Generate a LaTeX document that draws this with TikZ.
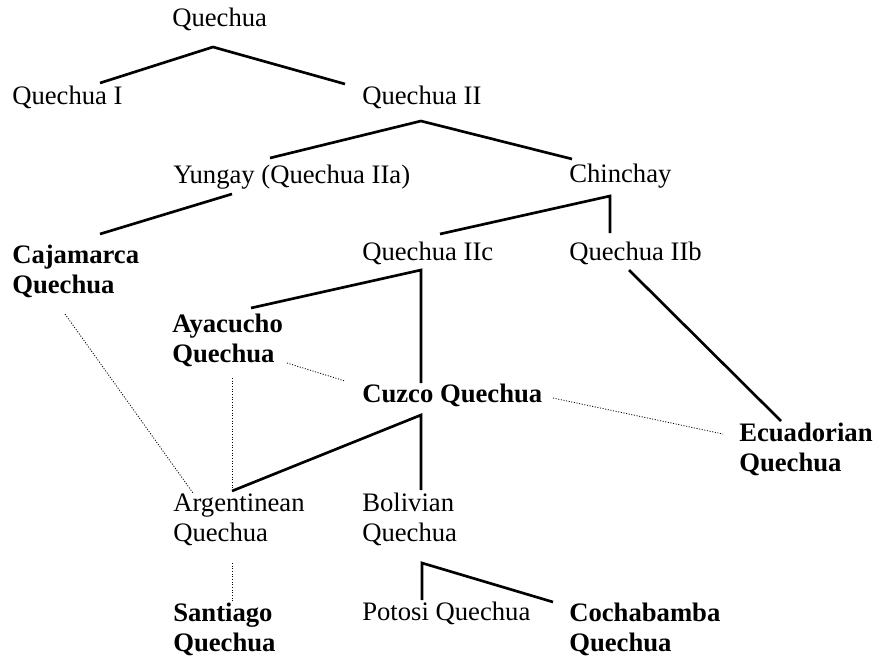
\documentclass[tikz,border=0pt]{standalone}
\usepackage{fontspec}
\setmainfont{Liberation Serif}

\begin{document}
\begin{tikzpicture}[x=0.75pt, y=-0.75pt,
    every node/.style={anchor=base west, inner sep=0pt, align=left,
      font=\fontsize{20}{22.5}\selectfont},
    lang/.style={font=\fontsize{20}{22.5}\selectfont\bfseries},
    branch/.style={line width=2pt},
    contact/.style={line width=0.6pt, dash pattern=on 0.8pt off 1.2pt}]
  \useasboundingbox (0,0) rectangle (874,657);

  % Labels (two-line labels sit on their last baseline)
  \node (Q) at (172,26) {Quechua};
  \node (QI) at (12,104) {Quechua I};
  \node (QII) at (362,104) {Quechua II};
  \node (Yun) at (173,183) {Yungay (Quechua IIa)};
  \node (Chin) at (569,182) {Chinchay};
  \node[lang] (Caj) at (12,293) {Cajamarca\\Quechua};
  \node (QIIc) at (362,260) {Quechua IIc};
  \node (QIIb) at (569,260) {Quechua IIb};
  \node[lang] (Aya) at (172,362) {Ayacucho\\Quechua};
  \node[lang] (Cuz) at (362,402) {Cuzco Quechua};
  \node[lang] (Ecu) at (739,471) {Ecuadorian\\Quechua};
  \node (Arg) at (173,541) {Argentinean\\Quechua};
  \node (Bol) at (362,541) {Bolivian\\Quechua};
  \node[lang] (San) at (173,651) {Santiago\\Quechua};
  \node (Pot) at (362,620) {Potosi Quechua};
  \node[lang] (Coc) at (569,651) {Cochabamba\\Quechua};

  % Forks
  \coordinate (Q-fork) at (213,47);
  \coordinate (QII-fork) at (421,121);
  \coordinate (Chin-fork) at (610,196);
  \coordinate (QIIc-fork) at (421,270);
  \coordinate (Cuz-fork) at (421,415);
  \coordinate (Bol-fork) at (422,563);

  % Branch ends
  \coordinate (QI-top) at (100,83);
  \coordinate (QII-top) at (345,84);
  \coordinate (Yun-top) at (270,158);
  \coordinate (Chin-top) at (572,159);
  \coordinate (Yun-foot) at (232,194);
  \coordinate (Caj-top) at (100,234);
  \coordinate (QIIc-top) at (440,234);
  \coordinate (QIIb-top) at (610,233);
  \coordinate (Aya-top) at (251,308);
  \coordinate (Cuz-top) at (421,383);
  \coordinate (QIIb-foot) at (629,270);
  \coordinate (Ecu-top) at (781,421);
  \coordinate (Arg-top) at (232,491);
  \coordinate (Bol-top) at (421,490);
  \coordinate (Pot-top) at (422,600);
  \coordinate (Coc-top) at (553,602);

  % Contact ends
  \coordinate (Caj-foot) at (65,314);
  \coordinate (Arg-corner) at (193,493);
  \coordinate (Aya-foot) at (232,378);
  \coordinate (Aya-east) at (287,363);
  \coordinate (Cuz-west) at (345,381);
  \coordinate (Cuz-east) at (553,398);
  \coordinate (Ecu-west) at (723,434);
  \coordinate (Arg-foot) at (232,563);
  \coordinate (San-top) at (232,601);

  % Family tree
  \draw[branch] (QI-top) -- (Q-fork) -- (QII-top);
  \draw[branch] (Yun-top) -- (QII-fork) -- (Chin-top);
  \draw[branch] (Yun-foot) -- (Caj-top);
  \draw[branch] (QIIc-top) -- (Chin-fork) -- (QIIb-top);
  \draw[branch] (Aya-top) -- (QIIc-fork) -- (Cuz-top);
  \draw[branch] (QIIb-foot) -- (Ecu-top);
  \draw[branch] (Arg-top) -- (Cuz-fork) -- (Bol-top);
  \draw[branch] (Pot-top) -- (Bol-fork) -- (Coc-top);

  % Contacts
  \draw[contact] (Caj-foot) -- (Arg-corner);
  \draw[contact] (Aya-foot) -- (Arg-top);
  \draw[contact] (Aya-east) -- (Cuz-west);
  \draw[contact] (Cuz-east) -- (Ecu-west);
  \draw[contact] (Arg-foot) -- (San-top);
\end{tikzpicture}
\end{document}
